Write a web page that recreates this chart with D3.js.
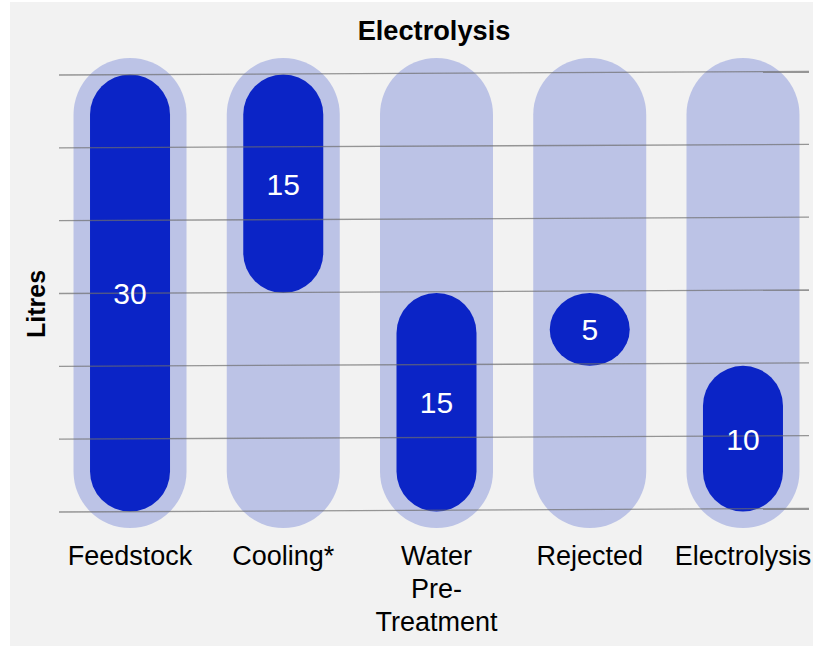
<!DOCTYPE html>
<html>
<head>
<meta charset="utf-8">
<script src="https://cdn.jsdelivr.net/npm/d3@7"></script>
<style>
  body { margin: 0; background: #ffffff; }
  text { font-family: "Liberation Sans", Arial, sans-serif; }
</style>
</head>
<body>
<svg id="chart" width="813" height="646"></svg>
<script>
// chart data
const categories = ["Feedstock", "Cooling*", "Water Pre-Treatment", "Rejected", "Electrolysis"];
const labelLines = [["Feedstock"], ["Cooling*"], ["Water", "Pre-", "Treatment"], ["Rejected"], ["Electrolysis"]];
const barStart = [0, 30, 0, 15, 0];
const barEnd = [30, 15, 15, 10, 10];
const barValues = [30, 15, 15, 5, 10];
const yTicks = [0, 5, 10, 15, 20, 25, 30];
const yMax = 30;

const svg = d3.select('#chart');

// panel background
svg.append('rect')
    .attr('x', 10).attr('y', 2)
    .attr('width', 803).attr('height', 644)
    .attr('fill', '#f2f2f2');

const x = d3.scaleBand()
    .domain(categories)
    .range([53.4, 819.6]);

const y = d3.scaleLinear()
    .domain([0, yMax])
    .range([511.5, 74.5]);

const darkW = 80;
const lightPad = 16.5;
const lightW = darkW + 2 * lightPad;

const data = categories.map((c, i) => ({
    name: c,
    lines: labelLines[i],
    lo: Math.min(barStart[i], barEnd[i]),
    hi: Math.max(barStart[i], barEnd[i]),
    value: barValues[i]
}));

const cx = d => x(d.name) + x.bandwidth() / 2;

// light background pills
svg.append('g').selectAll('rect')
    .data(data)
    .enter()
    .append('rect')
    .attr('x', d => cx(d) - lightW / 2)
    .attr('y', y(yMax) - lightPad)
    .attr('width', lightW)
    .attr('height', y(0) - y(yMax) + 2 * lightPad)
    .attr('rx', lightW / 2)
    .attr('fill', '#bcc3e6');

// dark bars
svg.append('g').selectAll('rect')
    .data(data)
    .enter()
    .append('rect')
    .attr('x', d => cx(d) - darkW / 2)
    .attr('y', d => y(d.hi))
    .attr('width', darkW)
    .attr('height', d => y(d.lo) - y(d.hi))
    .attr('rx', darkW / 2)
    .attr('fill', '#0b24c6');

// gridlines (drawn on top, slightly slanted as in the original)
svg.append('g').selectAll('line')
    .data(yTicks)
    .enter()
    .append('line')
    .attr('x1', 59).attr('x2', 809)
    .attr('y1', d => y(d) + 0.5)
    .attr('y2', d => y(d) - 3)
    .style('stroke', '#6e6e6e')
    .style('stroke-opacity', 0.7)
    .style('stroke-width', '1.3px');

// value labels
svg.append('g').selectAll('text')
    .data(data)
    .enter()
    .append('text')
    .attr('x', d => cx(d))
    .attr('y', d => (y(d.lo) + y(d.hi)) / 2 + 11)
    .attr('text-anchor', 'middle')
    .style('font-size', '30px')
    .style('fill', '#ffffff')
    .text(d => d.value);

// category labels
const cat = svg.append('g').selectAll('text')
    .data(data)
    .enter()
    .append('text')
    .attr('text-anchor', 'middle')
    .attr('x', d => cx(d))
    .attr('y', 565)
    .style('font-size', '27px')
    .style('fill', '#000');

cat.selectAll('tspan')
    .data(d => d.lines.map(l => ({ l: l, x: cx(d) })))
    .enter()
    .append('tspan')
    .attr('x', t => t.x)
    .attr('dy', (t, i) => i === 0 ? 0 : 33)
    .text(t => t.l);

// title
svg.append('text')
    .attr('x', 434)
    .attr('y', 40)
    .attr('text-anchor', 'middle')
    .style('font-size', '27.2px')
    .style('font-weight', 'bold')
    .text('Electrolysis');

// y axis title
svg.append('text')
    .attr('transform', 'translate(45,304) rotate(-90)')
    .attr('text-anchor', 'middle')
    .style('font-size', '25px')
    .style('font-weight', 'bold')
    .text('Litres');
</script>
</body>
</html>
